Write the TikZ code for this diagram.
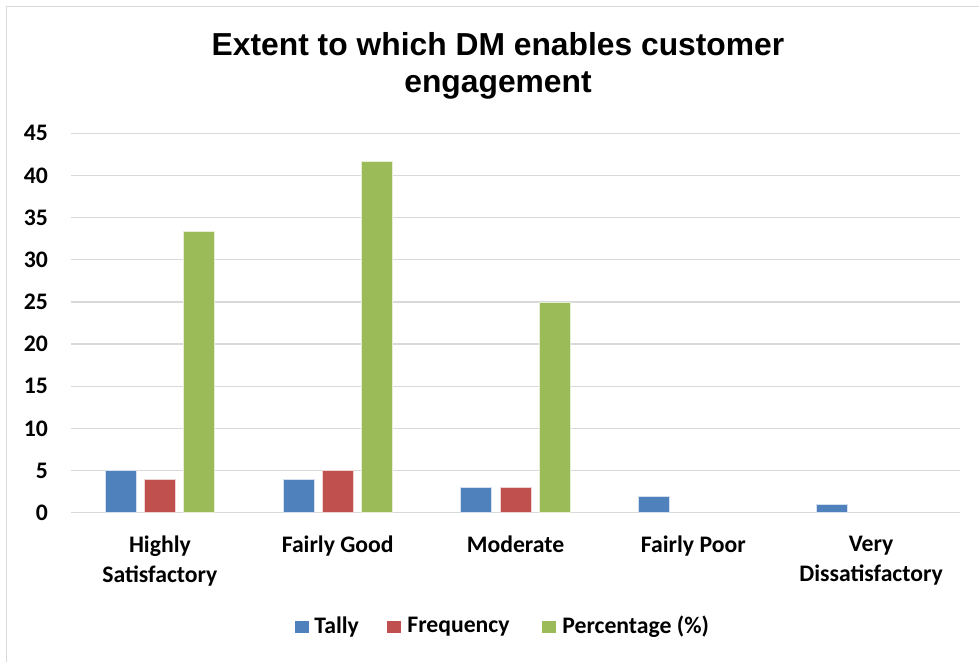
\documentclass[tikz,border=0pt]{standalone}
\usepackage{fontspec}
\setmainfont{Carlito}
\newfontfamily\titlefont{Liberation Sans}
\usepackage{xcolor}
\usetikzlibrary{positioning}
\definecolor{tallyblue}{HTML}{4F81BD}
\definecolor{freqred}{HTML}{C0504D}
\definecolor{pctgreen}{HTML}{9BBB59}
\definecolor{gridgray}{HTML}{D9D9D9}

\begin{document}
\begin{tikzpicture}[x=1pt, y=-1pt, font=\bfseries\fontsize{23.7}{30}\selectfont,
    gridline/.style={draw=gridgray, line width=1.3pt},
    tally/.style={fill=tallyblue, draw=white!75!tallyblue, line width=0.5pt},
    freq/.style={fill=freqred, draw=white!75!freqred, line width=0.5pt},
    pct/.style={fill=pctgreen, draw=white!75!pctgreen, line width=0.5pt}]
    % Define styles for labels and legend keys
    \tikzstyle{ticklabel} = [anchor=east, inner sep=0pt]
    \tikzstyle{catlabel} = [anchor=north, align=center, inner sep=0pt]
    \tikzstyle{legendkey} = [minimum width=14pt, minimum height=12pt, inner sep=0pt]

    % Canvas and chart frame
    \useasboundingbox (0,0) rectangle (979,662);
    \fill[white] (0,0) rectangle (979,662);
    \draw[gridgray, line width=1.3pt] (6.5,662) -- (6.5,6.5) -- (979,6.5);

    % Title
    \node[align=center, font=\titlefont\bfseries\fontsize{31.8}{37}\selectfont] (title) at (498,66)
        {Extent to which DM enables customer\\engagement};

    % Value axis: y measured in units, zero at the baseline
    \begin{scope}[shift={(0,512.7)}, y=8.43pt]
        \foreach \v in {0,5,...,45} {
            \draw[gridline] (71,\v) -- (960,\v);
            \node[ticklabel] (tick\v) at (48,\v) {\v};
        }

        % Bars: Tally, Frequency, Percentage
        \filldraw[tally] (105.1,0) rectangle (136.1,5);
        \filldraw[freq] (144.4,0) rectangle (175.4,4);
        \filldraw[pct] (183.7,0) rectangle (214.7,33.33);

        \filldraw[tally] (282.9,0) rectangle (313.9,4);
        \filldraw[freq] (322.2,0) rectangle (353.2,5);
        \filldraw[pct] (361.5,0) rectangle (392.5,41.67);

        \filldraw[tally] (460.7,0) rectangle (491.7,3);
        \filldraw[freq] (500.0,0) rectangle (531.0,3);
        \filldraw[pct] (539.3,0) rectangle (570.3,25);

        \filldraw[tally] (638.5,0) rectangle (669.5,2);

        \filldraw[tally] (816.3,0) rectangle (847.3,1);
    \end{scope}

    % Category labels
    \node[catlabel] (cathigh) at (159.9,535.5) {Highly\\Satisfactory};
    \node[catlabel] (catgood) at (337.7,535.5) {Fairly Good};
    \node[catlabel] (catmod) at (515.5,535.5) {Moderate};
    \node[catlabel] (catpoor) at (693.3,535.5) {Fairly Poor};
    \node[catlabel] (catvery) at (871.1,535.5) {Very\\Dissatisfactory};

    % Legend
    \node[legendkey, fill=tallyblue] (keytally) at (302,627) {};
    \node[right=5pt of keytally, inner sep=0pt] (labtally) {Tally};
    \node[legendkey, fill=freqred] (keyfreq) at (394,627) {};
    \node[right=6pt of keyfreq, inner sep=0pt] (labfreq) {Frequency};
    \node[legendkey, fill=pctgreen] (keypct) at (549,627) {};
    \node[right=6pt of keypct, inner sep=0pt] (labpct) {Percentage (\%)};
\end{tikzpicture}
\end{document}
